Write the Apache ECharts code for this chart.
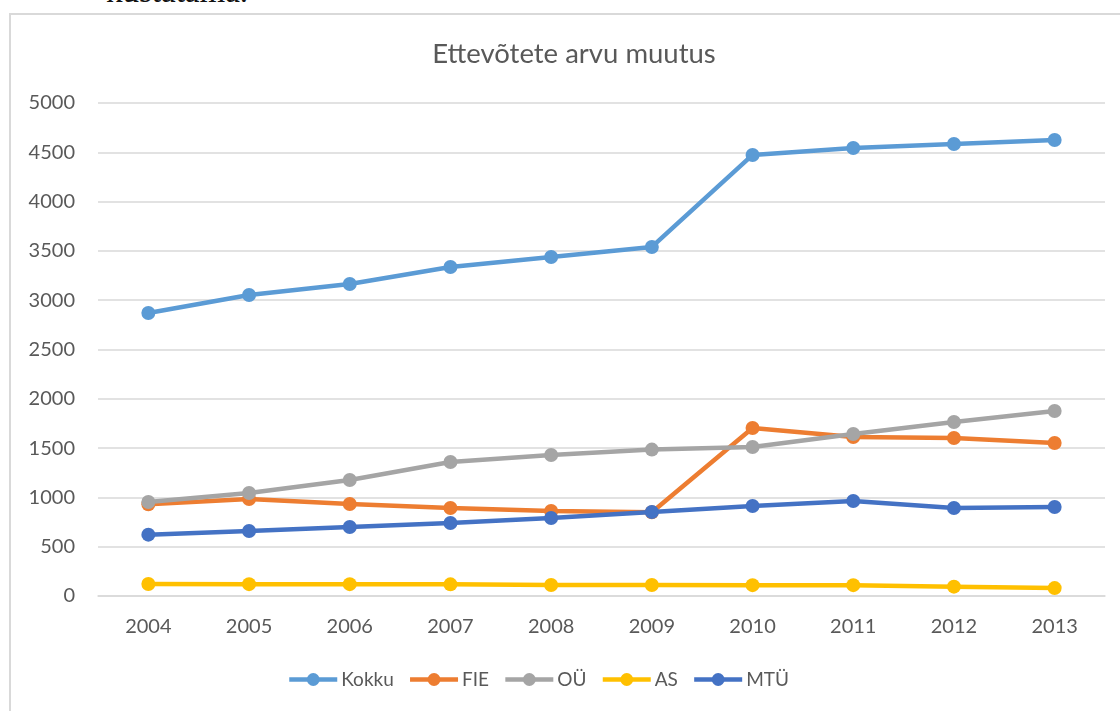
<!DOCTYPE html>
<html>
<head>
<meta charset="utf-8">
<script src="https://cdn.jsdelivr.net/npm/echarts@6/dist/echarts.min.js"></script>
<style>
html,body{margin:0;padding:0;background:#fff;overflow:hidden;}
#wrap{position:relative;width:1120px;height:711px;overflow:hidden;}
#note{position:absolute;left:106px;top:-25px;font-family:"Liberation Serif",serif;font-size:33px;line-height:32px;color:#111;white-space:nowrap;}
#frame{position:absolute;left:9px;top:13px;width:1200px;height:800px;border-left:2px solid #D9D9D9;border-top:2px solid #D9D9D9;}
#chart{position:absolute;left:0;top:0;width:1120px;height:711px;}
</style>
</head>
<body>
<div id="wrap">
<div id="note">kustatama.</div>
<div id="frame"></div>
<div id="chart"></div>
</div>
<script>
const titleText = 'Ettevõtete arvu muutus';
const years = ['2004','2005','2006','2007','2008','2009','2010','2011','2012','2013'];
const seriesNames = ['Kokku','FIE','OÜ','AS','MTÜ'];
const kokku = [2870, 3053, 3164, 3337, 3438, 3540, 4473, 4544, 4584, 4625];
const fie   = [930, 984, 933, 892, 862, 850, 1704, 1612, 1602, 1552];
const ou    = [953, 1045, 1176, 1359, 1430, 1485, 1511, 1643, 1765, 1876];
const as    = [122, 120, 120, 118, 112, 112, 110, 110, 95, 80];
const mtu   = [622, 659, 700, 740, 791, 852, 913, 963, 893, 903];
const colors = ['#5B9BD5','#ED7D31','#A5A5A5','#FFC000','#4472C4'];
const yTicks = {min: 0, max: 5000, interval: 500};

const dataSets = [kokku, fie, ou, as, mtu];
const textColor = '#595959';
const font = 'Lato';

const chart = echarts.init(document.getElementById('chart'), null, {renderer: 'canvas'});
chart.setOption({
  backgroundColor: 'transparent',
  animation: false,
  color: colors,
  title: {
    text: titleText,
    left: 569,
    top: 35,
    textAlign: 'center',
    textStyle: {fontFamily: font, fontSize: 27.5, fontWeight: 'normal', color: textColor}
  },
  legend: {
    data: seriesNames,
    left: 287,
    top: 670,
    padding: 0,
    itemWidth: 48,
    itemHeight: 16,
    itemGap: 14,
    lineStyle: {width: 4.5},
    textStyle: {fontFamily: font, fontSize: 19, color: textColor, padding: [0,0,0,-1]}
  },
  grid: {left: 98, right: 15, top: 103, bottom: 115, containLabel: false},
  xAxis: {
    type: 'category',
    data: years,
    boundaryGap: true,
    axisLine: {show: true, lineStyle: {color: '#D9D9D9', width: 1.5}},
    axisTick: {show: false},
    axisLabel: {fontFamily: font, fontSize: 20, color: textColor, margin: 21}
  },
  yAxis: {
    type: 'value',
    min: yTicks.min, max: yTicks.max, interval: yTicks.interval,
    axisLine: {show: false},
    axisTick: {show: false},
    splitLine: {lineStyle: {color: '#D9D9D9', width: 1.5}},
    axisLabel: {fontFamily: font, fontSize: 20, color: textColor, margin: 23, formatter: v => String(v)}
  },
  series: seriesNames.map((n, i) => ({
    name: n,
    type: 'line',
    data: dataSets[i],
    symbol: 'circle',
    symbolSize: 14,
    showSymbol: true,
    lineStyle: {width: 4.5, color: colors[i]},
    itemStyle: {color: colors[i]},
    z: 2 + i
  }))
});
</script>
</body>
</html>
